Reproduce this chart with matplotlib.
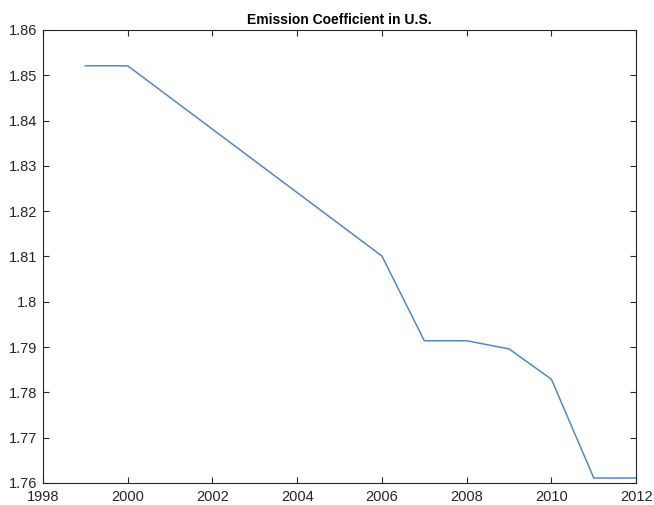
import numpy as np
import matplotlib.pyplot as plt

plt.rcParams['font.family'] = ['Liberation Sans', 'DejaVu Sans']

years = [1999, 2000, 2006, 2007, 2008, 2009, 2010, 2011, 2012]
coef = [1.8521, 1.8521, 1.8101, 1.7914, 1.7914, 1.7896, 1.7829, 1.7611, 1.7611]

xticks = np.arange(1998, 2013, 2)
yticks = np.round(np.arange(1.76, 1.8601, 0.01), 2)
ylabels = ['1.76', '1.77', '1.78', '1.79', '1.8', '1.81', '1.82', '1.83', '1.84', '1.85', '1.86']

fig = plt.figure(figsize=(6.54, 5.05), dpi=100)
ax = fig.add_axes([0.0657, 0.0436, 0.907, 0.897])

ax.plot(years, coef, color='#5288c4', linewidth=1.1)

ax.set_xlim(1998, 2012)
ax.set_ylim(1.76, 1.86)
ax.set_xticks(xticks)
ax.set_yticks(yticks)
ax.set_yticklabels(ylabels)
ax.tick_params(direction='in', top=True, right=True, length=4, width=0.8,
               labelsize=10.5, colors='#262626')
ax.tick_params(axis='y', pad=4)
ax.tick_params(axis='x', pad=5)
for s in ax.spines.values():
    s.set_color('#262626')
    s.set_linewidth(0.8)

ax.set_title('Emission Coefficient in U.S.', fontsize=10, fontweight='bold', pad=4)

fig.savefig('out.png', dpi=100)
